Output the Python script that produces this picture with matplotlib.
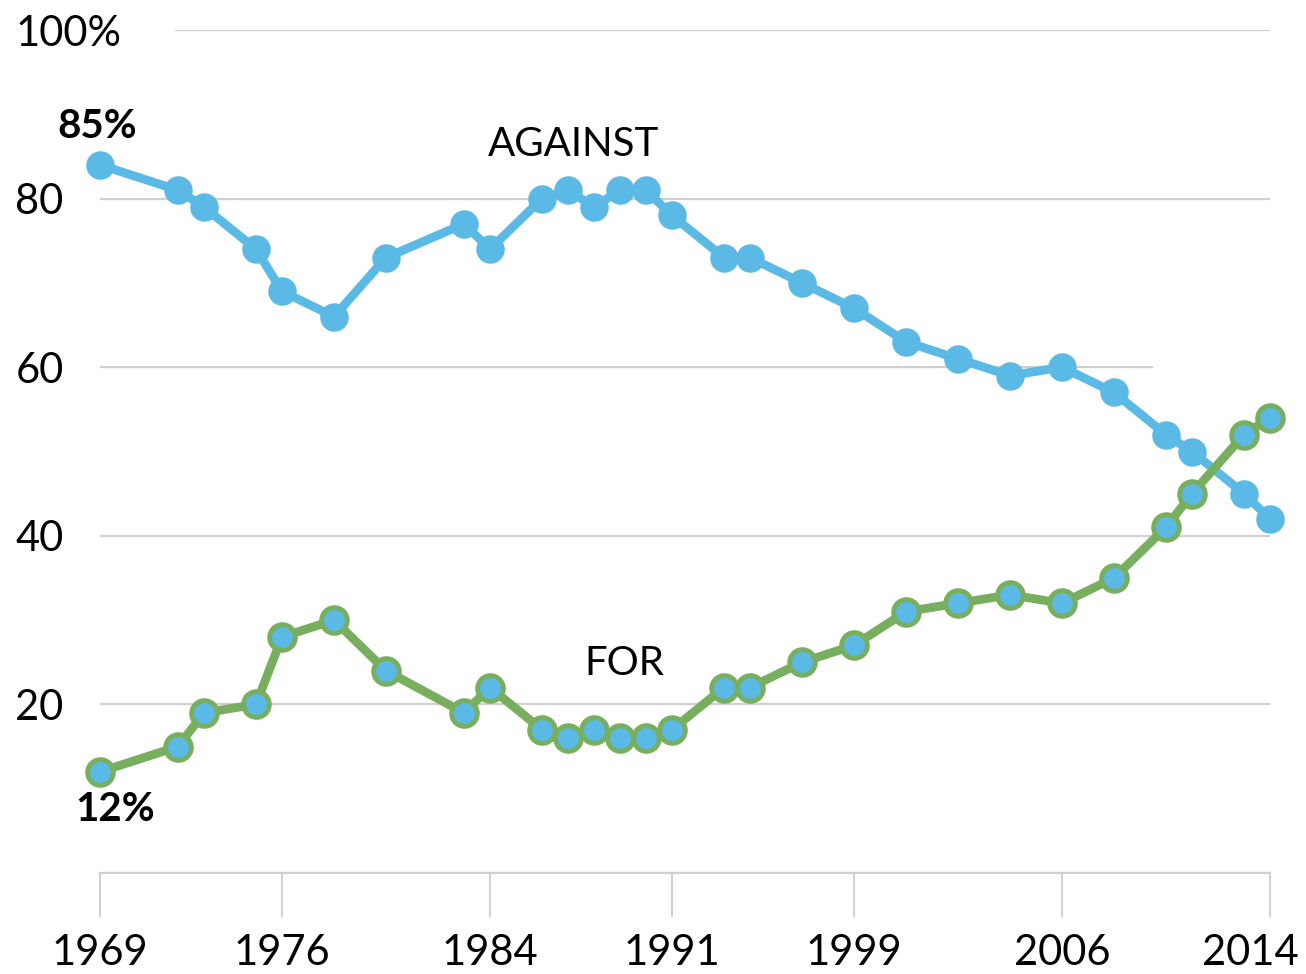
"""Opinion on legalizing marijuana, 1969-2014: against vs for."""

import matplotlib
matplotlib.use("Agg")
import matplotlib.pyplot as plt
import matplotlib.transforms as mtransforms

YEARS = [1969, 1972, 1973, 1975, 1976, 1978, 1980, 1983, 1984, 1986, 1987, 1988,
         1989, 1990, 1991, 1993, 1994, 1996, 1998, 2000, 2002, 2004, 2006, 2008,
         2010, 2011, 2013, 2014]
AGAINST = [84, 81, 79, 74, 69, 66, 73, 77, 74, 80, 81, 79,
           81, 81, 78, 73, 73, 70, 67, 63, 61, 59, 60, 57,
           52, 50, 45, 42]
FOR = [12, 15, 19, 20, 28, 30, 24, 19, 22, 17, 16, 17,
       16, 16, 17, 22, 22, 25, 27, 31, 32, 33, 32, 35,
       41, 45, 52, 54]

X_TICKS = [1969, 1976, 1984, 1991, 1998, 2006, 2014]
X_LABELS = ["1969", "1976", "1984", "1991", "1999", "2006", "2014"]
Y_TICKS = [20, 40, 60, 80, 100]
Y_LABELS = ["20", "40", "60", "80", "100%"]

BLUE = "#5bb9e5"
GREEN = "#78af5f"
GRID = "#d0d0d0"

plt.rcParams["font.family"] = ["Lato", "DejaVu Sans"]

fig = plt.figure(figsize=(13.06, 9.74), dpi=100)
ax = fig.add_axes([100 / 1306, 101 / 974, 1170 / 1306, 843 / 974])
ax.set_xlim(1969, 2014)
ax.set_ylim(0, 100)

# gridlines (the 100% and 60 lines are shortened as in the original)
ax.hlines([20, 40, 80], 1969, 2014, color=GRID, lw=1.6, zorder=0)
ax.hlines(100, 1971.9, 2014, color=GRID, lw=1.6, zorder=0)
ax.hlines(60, 1969, 2009.5, color=GRID, lw=1.6, zorder=0)

ax.plot(YEARS, AGAINST, color=BLUE, lw=6.3, marker="o", ms=19.5,
        mfc=BLUE, mec=BLUE, clip_on=False, zorder=3)
ax.plot(YEARS, FOR, color=GREEN, lw=6.3, marker="o", ms=18.5,
        mfc=BLUE, mec=GREEN, mew=3.5, clip_on=False, zorder=4)

ax.text(1987.2, 86.4, "AGAINST", fontsize=29, ha="center", va="center")
ax.text(1989.15, 24.9, "FOR", fontsize=29, ha="center", va="center")
ax.text(1968.9, 88.5, "85%", fontsize=29, fontweight="bold",
        ha="center", va="center")
ax.text(1969.6, 7.5, "12%", fontsize=29, fontweight="bold",
        ha="center", va="center")

for side in ["left", "right", "top"]:
    ax.spines[side].set_visible(False)
ax.spines["bottom"].set_color(GRID)
ax.spines["bottom"].set_linewidth(1.6)

ax.set_xticks(X_TICKS, X_LABELS)
ax.tick_params(axis="x", direction="out", length=32, width=1.4, color=GRID,
               pad=12, labelsize=30)
# last label is pulled left so it stays inside the figure
last = ax.get_xticklabels()[-1]
last.set_transform(last.get_transform()
                   + mtransforms.ScaledTranslation(-0.2, 0, fig.dpi_scale_trans))
ax.set_yticks(Y_TICKS, Y_LABELS)
ax.tick_params(axis="y", length=0, pad=61, labelsize=30)
for lab in ax.get_yticklabels():
    lab.set_horizontalalignment("left")

fig.savefig("out.png", dpi=100)
